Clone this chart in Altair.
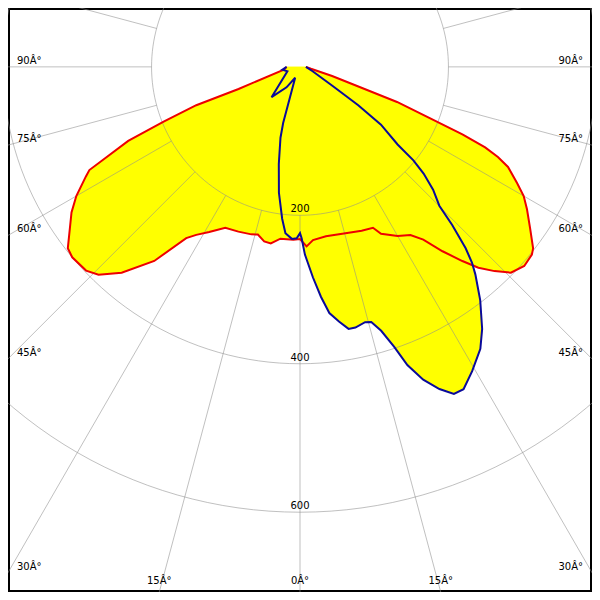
import altair as alt
import pandas as pd
import numpy as np

# ---- data (angle in degrees from nadir, negative = left half-plane; intensity in cd) ----
red_angle = [-90, -80.5, -70.2, -69.7, -68.1, -66.7, -63.9, -62.9, -60.0, -57.5, -54.9, -52.0, -50.1,
             -46.4, -44.1, -40.9, -36.9, -33.6, -31.7, -28.8, -24.9, -20.5, -16.2, -14.1, -11.6, -9.4,
             -6.5, -2.2, 0.0, 2.1, 4.3, 8.7, 14.2, 20.6, 24.4, 25.9, 30.0, 33.3, 35.5, 37.7, 39.9, 41.6,
             43.6, 45.7, 48.4, 51.0, 52.1, 54.9, 57.9, 60.0, 61.8, 64.3, 65.5, 66.5, 67.4, 68.4, 70.1,
             71.1, 74.1, 80.0, 90]
red_I = [18, 22, 88, 149, 198, 252, 316, 324, 348, 365, 379, 397, 400,
         398, 390, 367, 327, 277, 266, 254, 239, 237, 235, 233, 240, 241,
         233, 233, 232, 242, 234, 231, 232, 236, 238, 250, 263, 271, 286, 314, 341, 362,
         380, 397, 404, 402, 398, 379, 361, 348, 332, 311, 293, 272, 237, 188, 139,
         92, 45, 15, 8]

blue_angle = [-90, -81, -70.5, -43.2, -33.4, -24, -16.7, -15.4, -12.3, -9.5, -6.7, -5.0, -2.7, -1.1,
              0.0, 0.55, 1.5, 3.5, 5.2, 6.8, 8.7, 10.5, 12.0, 14.3, 15.6, 17.1, 18.6, 19.8, 21.5,
              23.4, 25.2, 26.9, 29.5, 32.6, 34.8, 37.7, 40.2, 41.3, 42.4, 43.9, 45.1, 47.3, 49.2,
              50.5, 51.5, 54.5, 56.6, 59.7, 71, 90]
blue_I = [18, 24, 18, 56, 33, 16, 79, 99, 134, 172, 206, 225, 232, 231,
          224, 231, 253, 284, 311, 334, 347, 359, 359, 355, 357, 372, 398, 427, 453,
          473, 487, 487, 471, 451, 430, 397, 366, 351, 331, 296, 265, 244, 220,
          198, 168, 134, 94, 51, 18, 8]

ring_values = [200, 400, 600]
spoke_angles = list(range(-165, 181, 15))
side_label_angles = [90, 75, 60, 45, 30]
bottom_label_angles = [0, 15]
deg_suffix = "Â°"

# ---- layout constants ----
XMAX = 393.4
YTOP = 79.3
YBOT = -707.5
W = H = 584
FONT = "DejaVu Sans"

xs = alt.Scale(domain=[-XMAX, XMAX], nice=False, zero=False)
ys = alt.Scale(domain=[YBOT, YTOP], nice=False, zero=False)


def X(f):
    return alt.X(f, type="quantitative", scale=xs, axis=None)


def Y(f):
    return alt.Y(f, type="quantitative", scale=ys, axis=None)


rows = []
for name, angs, vals in [("C0-C180", red_angle, red_I), ("C90-C270", blue_angle, blue_I)]:
    for i, (a, v) in enumerate(zip(angs, vals)):
        rows.append({"curve": name, "i": i, "a": a, "I": v})
curves = pd.DataFrame(rows)

polar_x = "datum.I * sin(datum.a * PI / 180)"
polar_y = "-datum.I * cos(datum.a * PI / 180)"

base_curves = alt.Chart(curves).transform_calculate(x=polar_x, y=polar_y)

fills = base_curves.mark_line(
    fill="#ffff00", strokeOpacity=0, interpolate="linear-closed"
).encode(x=X("x"), y=Y("y"), order=alt.Order("i:Q"), detail="curve:N")

red_line = base_curves.transform_filter(alt.datum.curve == "C0-C180").mark_line(
    color="#ee0000", strokeWidth=2
).encode(x=X("x"), y=Y("y"), order=alt.Order("i:Q"))

blue_line = base_curves.transform_filter(alt.datum.curve == "C90-C270").mark_line(
    color="#0a0a9a", strokeWidth=2
).encode(x=X("x"), y=Y("y"), order=alt.Order("i:Q"))

# grid rings
ring_rows = []
for r in ring_values:
    for k, t in enumerate(np.arange(0, 362, 2)):
        ring_rows.append({"r": r, "k": k, "t": float(t)})
rings_df = pd.DataFrame(ring_rows)
rings = alt.Chart(rings_df).transform_calculate(
    x="datum.r * sin(datum.t * PI / 180)", y="-datum.r * cos(datum.t * PI / 180)"
).mark_line(color="#8c8c8c", strokeWidth=1, opacity=0.55, clip=True).encode(
    x=X("x"), y=Y("y"), order=alt.Order("k:Q"), detail="r:N"
)

spokes_df = pd.DataFrame({"a": spoke_angles})
spokes = alt.Chart(spokes_df).transform_calculate(
    x=f"{ring_values[0]} * sin(datum.a * PI / 180)",
    y=f"-{ring_values[0]} * cos(datum.a * PI / 180)",
    x2="1200 * sin(datum.a * PI / 180)",
    y2="-1200 * cos(datum.a * PI / 180)",
).mark_rule(color="#8c8c8c", strokeWidth=1, opacity=0.55, clip=True).encode(
    x=X("x"), y=Y("y"), x2="x2:Q", y2="y2:Q"
)

# ring value labels
ring_lab = alt.Chart(pd.DataFrame({"r": ring_values})).transform_calculate(
    x="0", y="-datum.r", t="'' + datum.r"
).mark_text(font=FONT, fontSize=10, color="black", baseline="alphabetic", dy=-3).encode(
    x=X("x"), y=Y("y"), text="t:N"
)

# side angle labels
side_df = pd.DataFrame({"a": side_label_angles})
left_lab = alt.Chart(side_df).transform_calculate(
    x=f"-{XMAX}", y=f"-{XMAX} * cos(datum.a * PI / 180) / sin(datum.a * PI / 180)",
    t=f"datum.a + '{deg_suffix}'"
).mark_text(font=FONT, fontSize=10, color="black", align="left", baseline="alphabetic",
            dx=9, dy=-3).encode(x=X("x"), y=Y("y"), text="t:N")
right_lab = alt.Chart(side_df).transform_calculate(
    x=f"{XMAX}", y=f"-{XMAX} * cos(datum.a * PI / 180) / sin(datum.a * PI / 180)",
    t=f"datum.a + '{deg_suffix}'"
).mark_text(font=FONT, fontSize=10, color="black", align="right", baseline="alphabetic",
            dx=-9, dy=-3).encode(x=X("x"), y=Y("y"), text="t:N")

bot_rows = []
for a in bottom_label_angles:
    for s in ([1] if a == 0 else [-1, 1]):
        bot_rows.append({"a": a, "s": s})
bot_lab = alt.Chart(pd.DataFrame(bot_rows)).transform_calculate(
    x=f"datum.s * {-YBOT} * tan(datum.a * PI / 180)", y=f"{YBOT}",
    t=f"datum.a + '{deg_suffix}'"
).mark_text(font=FONT, fontSize=10, color="black", align="center", baseline="alphabetic",
            dy=-8).encode(x=X("x"), y=Y("y"), text="t:N")

chart = alt.layer(
    fills, rings, spokes, red_line, blue_line, ring_lab, left_lab, right_lab, bot_lab
).properties(
    width=W, height=H, padding=0, autosize="none", background="white"
).configure_view(stroke="black", strokeWidth=4)

chart.save("out.html", embed_options={"renderer": "svg", "actions": False})
